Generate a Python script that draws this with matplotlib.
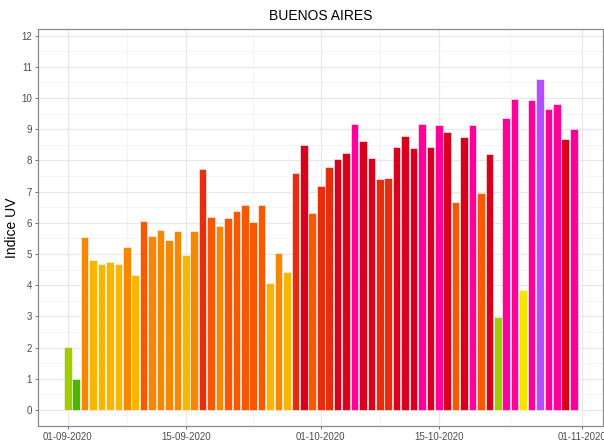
import numpy as np
import pandas as pd
import matplotlib
matplotlib.use("Agg")
import matplotlib.pyplot as plt

# --------------------------------
# Datos: índice UV diario, Buenos Aires (sep-oct 2020)
# --------------------------------
FECHA_INICIO = "2020-09-01"
indice_uv = [
    2.03, 1.01, 5.53, 4.80, 4.69, 4.74, 4.67, 5.21, 4.32, 6.05,
    5.57, 5.78, 5.44, 5.74, 4.96, 5.73, 7.71, 6.18, 5.91, 6.14,
    6.38, 6.58, 6.04, 6.56, 4.06, 5.02, 4.44, 7.60, 8.50, 6.30,
    7.17, 7.79, 8.04, 8.24, 9.18, 8.63, 8.09, 7.41, 7.44, 8.43,
    8.79, 8.40, 9.15, 8.42, 9.12, 8.91, 6.67, 8.75, 9.12, 6.94,
    8.19, 2.99, 9.36, 9.98, 3.86, 9.93, 10.61, 9.66, 9.80, 8.68,
    9.01,
]
# paleta OMS por nivel (0..11+)
paleta_uv = ["#4EB400", "#4EB400", "#A0CE00", "#F7E400", "#F8B600", "#F88700",
             "#F85900", "#E82C0E", "#D8001D", "#FF0099", "#B54CFF", "#998CFF"]

etiquetas_x = ["2020-09-01", "2020-09-15", "2020-10-01", "2020-10-15", "2020-11-01"]
marcas_y = list(range(0, 13))

fechas = pd.date_range(FECHA_INICIO, periods=len(indice_uv), freq="D")
colores = [paleta_uv[min(int(np.floor(v)), len(paleta_uv) - 1)] for v in indice_uv]

# --------------------------------
# Figura
# --------------------------------
plt.rcParams["font.family"] = ["Liberation Sans", "DejaVu Sans"]

fig = plt.figure(figsize=(6.04, 4.44), dpi=100)
ax = fig.add_axes([38.3 / 604, 1 - 425.7 / 444, (602.8 - 38.3) / 604, (425.7 - 29.3) / 444])

ax.bar(fechas, indice_uv, width=0.9, color=colores, edgecolor="white", linewidth=0.4, zorder=3)

# ejes
t0 = pd.Timestamp(FECHA_INICIO)
ax.set_xlim(t0 - pd.Timedelta(days=3.49), t0 + pd.Timedelta(days=63.45))
ax.set_ylim(-0.5, 12.2)

mayores = pd.to_datetime(etiquetas_x)
menores = [mayores[i] + (mayores[i + 1] - mayores[i]) / 2 for i in range(len(mayores) - 1)]
ax.set_xticks(mayores)
ax.set_xticklabels([d.strftime("%d-%m-%Y") for d in mayores])
ax.set_xticks(menores, minor=True)
ax.set_yticks(marcas_y)
ax.set_yticks(np.arange(0.5, 12.5, 1), minor=True)

ax.grid(which="major", color="#E8E8E8", linewidth=0.9, zorder=0)
ax.grid(which="minor", color="#F2F2F2", linewidth=0.6, zorder=0)
ax.set_axisbelow(True)

ax.tick_params(which="major", length=2.5, width=0.6, color="#555555",
               labelsize=7, labelcolor="#4D4D4D", pad=2)
ax.tick_params(which="minor", length=0)
for s in ax.spines.values():
    s.set_color("#8A8A8A")
    s.set_linewidth(0.9)

ax.set_ylabel("Indice UV", fontsize=10, color="black", labelpad=2)
ax.set_title("BUENOS AIRES", fontsize=10, color="black", pad=7)

fig.savefig("out.png", dpi=100)
